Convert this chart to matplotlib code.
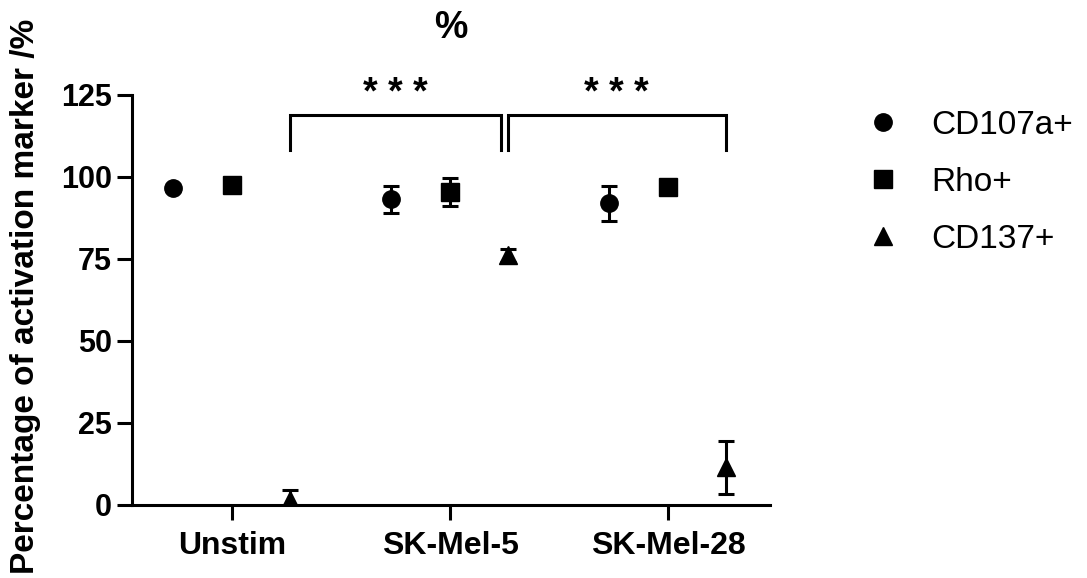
import numpy as np
import matplotlib
matplotlib.use("Agg")
import matplotlib.pyplot as plt
from matplotlib.lines import Line2D

plt.rcParams['font.family'] = ['Liberation Sans', 'DejaVu Sans']

# Groups and series
categories = ['Unstim', 'SK-Mel-5', 'SK-Mel-28']
series_names = ['CD107a+', 'Rho+', 'CD137+']
markers = ['o', 's', '^']

# Means and error (SD)
cd107a_mean = [96.6, 93.2, 92.0]
cd107a_err = [0.8, 4.1, 5.4]
rho_mean = [97.6, 95.5, 97.0]
rho_err = [0.6, 4.2, 0.8]
cd137_mean = [1.6, 76.2, 11.5]
cd137_err = [3.0, 2.0, 8.1]

means = [cd107a_mean, rho_mean, cd137_mean]
errs = [cd107a_err, rho_err, cd137_err]

# significance brackets on CD137+ between neighbouring groups
brackets = [(0, 1, '* * *'), (1, 2, '* * *')]
yticks = [0, 25, 50, 75, 100, 125]

offsets = [-0.27, 0.0, 0.265]
lw = 2.2

fig = plt.figure(figsize=(10.87, 5.78), dpi=100)
ax = fig.add_axes([132/1087, 1-505/578, 638/1087, 410/578])

x = np.arange(len(categories))
for i in range(3):
    ax.errorbar(x + offsets[i], means[i], yerr=errs[i], fmt=markers[i],
                color='black', ms=12.5, elinewidth=lw, capsize=6, capthick=lw,
                zorder=3)

# brackets + stars
b_top, b_low, star_y = 118.9, 108.2, 119.8
for g1, g2, lab in brackets:
    x1 = g1 + offsets[2]
    x2 = g2 + offsets[2]
    if g1 == 0:
        x2 -= 0.03
    ax.plot([x1, x1, x2, x2], [b_low, b_top, b_top, b_low], color='black',
            lw=lw, clip_on=False, solid_joinstyle='miter')
    ax.text((x1 + x2) / 2, star_y, lab, ha='center', va='bottom',
            fontsize=27, fontweight='bold')

ax.set_xlim(-0.459, 2.468)
ax.set_ylim(0, 125)
ax.set_xticks(x)
ax.set_xticklabels(categories, fontsize=23, fontweight='bold')
ax.set_yticks(yticks)
ax.set_yticklabels([str(v) for v in yticks], fontsize=22, fontweight='bold')

for s in ['top', 'right']:
    ax.spines[s].set_visible(False)
for s in ['left', 'bottom']:
    ax.spines[s].set_linewidth(lw)
ax.tick_params(axis='both', width=lw, length=11)
ax.tick_params(axis='y', pad=3.5)
ax.tick_params(axis='x', pad=8)

ax.set_ylabel('Percentage of activation marker /%', fontsize=24,
              fontweight='bold')
ax.yaxis.set_label_coords(-0.142, 0.51)
ax.set_title('%', fontsize=27, fontweight='bold', pad=41)

handles = [Line2D([], [], marker=m, color='black', ls='none', ms=12.5)
           for m in markers]
fig.legend(handles, series_names, loc='upper left',
           bbox_to_anchor=(866/1087, 1-110/578), frameon=False,
           fontsize=24, handlelength=1.0, handletextpad=0.96,
           labelspacing=0.78, borderpad=0, borderaxespad=0)

fig.savefig('out.png', dpi=100)
